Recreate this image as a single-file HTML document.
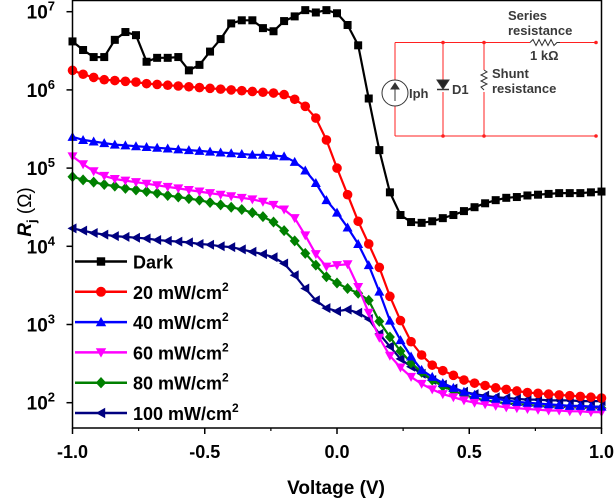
<!DOCTYPE html>
<html><head><meta charset="utf-8"><style>
html,body{margin:0;padding:0;background:#fff;}
svg{display:block;font-family:"Liberation Sans",Arial,sans-serif;}
</style></head><body>
<svg id="chart" width="616" height="502" viewBox="0 0 616 502">
<g id="circuit" fill="none" stroke="#ff2020" stroke-width="1">
  <line x1="395" y1="42.5" x2="530" y2="42.5"/>
  <line x1="560" y1="42.5" x2="596" y2="42.5"/>
  <line x1="395" y1="136" x2="596" y2="136"/>
  <line x1="395" y1="42.5" x2="395" y2="80"/>
  <line x1="395" y1="106" x2="395" y2="136"/>
  <line x1="443" y1="42.5" x2="443" y2="80"/>
  <line x1="443" y1="92" x2="443" y2="136"/>
  <line x1="484" y1="42.5" x2="484" y2="70"/>
  <line x1="484" y1="92" x2="484" y2="136"/>
  <g fill="#ff2020" stroke="none">
    <circle cx="443" cy="42.5" r="1.8"/><circle cx="484" cy="42.5" r="1.8"/><circle cx="596" cy="42.5" r="1.8"/>
    <circle cx="443" cy="136" r="1.8"/><circle cx="484" cy="136" r="1.8"/><circle cx="596" cy="136" r="1.8"/>
  </g>
  <g stroke="#333">
    <circle cx="395" cy="93" r="13"/>
    <line x1="395" y1="101" x2="395" y2="85"/>
    <path d="M391 89 L395 83 L399 89 Z" fill="#333"/>
    <path d="M437 80 L449 80 L443 89 Z" fill="#222"/>
    <line x1="437" y1="89.5" x2="449" y2="89.5" stroke-width="1.5"/>
    <path d="M484 70 L487 72 L481 75 L487 78 L481 81 L487 84 L481 87 L484 90"/>
    <path d="M530 42.5 L533 39.5 L536 45.5 L539 39.5 L542 45.5 L545 39.5 L548 45.5 L551 39.5 L554 45.5 L557 42.5 L560 42.5"/>
  </g>
  <g fill="#3a3a3a" stroke="none" font-size="13" font-weight="bold">
    <text x="409" y="98">Iph</text>
    <text x="452" y="94">D1</text>
    <text x="492" y="78">Shunt</text>
    <text x="492" y="93">resistance</text>
    <text x="508" y="20">Series</text>
    <text x="508" y="35">resistance</text>
    <text x="530" y="60">1 kΩ</text>
  </g>
</g>
<g id="plot"></g>
<g id="axes"></g>
<g id="legend"></g>
</svg>
<script>
const voltages = [];
for (let i = 0; i <= 50; i++) voltages.push(-1 + i * 0.04);
const seriesNames = ["Dark","20 mW/cm","40 mW/cm","60 mW/cm","80 mW/cm","100 mW/cm"];
const darkLog = [6.62,6.51,6.42,6.42,6.64,6.74,6.70,6.36,6.41,6.41,6.42,6.25,6.32,6.49,6.65,6.85,6.89,6.89,6.79,6.75,6.88,6.94,7.02,6.99,7.02,6.98,6.83,6.57,5.89,5.23,4.69,4.40,4.31,4.30,4.32,4.36,4.40,4.45,4.50,4.55,4.59,4.62,4.63,4.65,4.66,4.67,4.68,4.68,4.68,4.69,4.70];
const p20Log = [6.25,6.20,6.16,6.13,6.12,6.11,6.10,6.08,6.07,6.06,6.05,6.04,6.03,6.02,6.01,6.0,5.99,5.98,5.97,5.96,5.94,5.88,5.79,5.64,5.36,5.0,4.66,4.32,4.03,3.73,3.36,3.05,2.78,2.61,2.48,2.41,2.35,2.29,2.25,2.22,2.19,2.17,2.15,2.13,2.12,2.11,2.10,2.09,2.08,2.07,2.06];
const p40Log = [5.40,5.36,5.34,5.32,5.30,5.29,5.28,5.27,5.26,5.25,5.24,5.23,5.22,5.21,5.20,5.19,5.18,5.17,5.17,5.16,5.15,5.08,4.97,4.81,4.59,4.43,4.24,4.03,3.76,3.42,3.05,2.80,2.59,2.42,2.33,2.25,2.19,2.14,2.10,2.07,2.05,2.03,2.01,2.0,1.99,1.98,1.97,1.96,1.96,1.95,1.95];
const p60Log = [5.15,5.05,4.96,4.90,4.86,4.84,4.82,4.80,4.78,4.76,4.74,4.72,4.70,4.68,4.66,4.64,4.62,4.60,4.57,4.53,4.47,4.36,4.14,3.90,3.74,3.76,3.77,3.48,3.15,2.83,2.60,2.45,2.33,2.24,2.17,2.11,2.07,2.03,2.0,1.98,1.96,1.94,1.93,1.92,1.91,1.90,1.90,1.89,1.89,1.88,1.88];
const p80Log = [4.89,4.85,4.82,4.79,4.77,4.74,4.72,4.70,4.68,4.65,4.63,4.61,4.59,4.56,4.53,4.50,4.47,4.43,4.38,4.31,4.20,4.07,3.91,3.76,3.61,3.53,3.46,3.40,3.31,3.04,2.84,2.66,2.51,2.39,2.29,2.21,2.15,2.10,2.06,2.03,2.01,1.99,1.98,1.97,1.96,1.95,1.95,1.94,1.94,1.93,1.93];
const p100Log = [4.23,4.20,4.17,4.15,4.13,4.12,4.11,4.10,4.08,4.07,4.06,4.05,4.03,4.02,4.00,3.99,3.96,3.93,3.90,3.86,3.78,3.63,3.46,3.31,3.21,3.17,3.19,3.15,3.07,2.88,2.72,2.56,2.46,2.37,2.29,2.23,2.18,2.14,2.11,2.09,2.07,2.06,2.05,2.04,2.04,2.03,2.03,2.03,2.02,2.02,2.02];
const xTicks = [-1.0,-0.5,0.0,0.5,1.0];
const xTickLabels = ["-1.0","-0.5","0.0","0.5","1.0"];
const yTickExps = [2,3,4,5,6,7];

const NS = "http://www.w3.org/2000/svg";
const X0 = 72.5, X1 = 601.5, YTOP = 0.5, YBOT = 428;
function xs(v){ return X0 + (v + 1) / 2 * (X1 - X0); }
function ys(lg){ return 11.7 + (7 - lg) * 78.2; }
function mk(tag, attrs, parent){ const e = document.createElementNS(NS, tag); for (const k in attrs) e.setAttribute(k, attrs[k]); parent.appendChild(e); return e; }

const colors = ["#000000","#ff0000","#0000ff","#ff00ff","#008000","#000080"];
const markers = ["square","circle","up","down","diamond","left"];
const allSeries = [darkLog,p20Log,p40Log,p60Log,p80Log,p100Log];
const slugs = ["dark","20mw","40mw","60mw","80mw","100mw"];

function drawMarker(parent, type, cx, cy, color, s){
  let e;
  if (type === "square") e = mk("rect", {x: cx - s, y: cy - s, width: 2*s, height: 2*s, fill: color}, parent);
  else if (type === "circle") e = mk("circle", {cx: cx, cy: cy, r: s + 0.8, fill: color}, parent);
  else if (type === "up") e = mk("path", {d: `M${cx} ${cy-s-1} L${cx+s+1} ${cy+s} L${cx-s-1} ${cy+s} Z`, fill: color}, parent);
  else if (type === "down") e = mk("path", {d: `M${cx} ${cy+s+1} L${cx+s+1} ${cy-s} L${cx-s-1} ${cy-s} Z`, fill: color}, parent);
  else if (type === "diamond") e = mk("path", {d: `M${cx} ${cy-s-1.5} L${cx+s+1} ${cy} L${cx} ${cy+s+1.5} L${cx-s-1} ${cy} Z`, fill: color}, parent);
  else e = mk("path", {d: `M${cx-s-1} ${cy} L${cx+s} ${cy-s-1} L${cx+s} ${cy+s+1} Z`, fill: color}, parent);
  return e;
}

const plot = document.getElementById("plot");
for (let si = allSeries.length - 1; si >= 0; si--) {
  const g = mk("g", {}, plot);
  
  
  const data = allSeries[si];
  const pts = data.map((v, i) => xs(voltages[i]).toFixed(1) + "," + ys(v).toFixed(1)).join(" ");
  const line = mk("polyline", {points: pts, fill: "none", stroke: colors[si], "stroke-width": 2.2, "stroke-linejoin": "round"}, g);
  
  
  data.forEach((v, i) => {
    const m = drawMarker(g, markers[si], xs(voltages[i]), ys(v), colors[si], 4);
    
    
  });
}

const axes = document.getElementById("axes");
const frame = mk("rect", {x: X0, y: YTOP, width: X1 - X0, height: YBOT - YTOP, fill: "none", stroke: "#000", "stroke-width": 1.5}, axes);


xTicks.forEach((t, i) => {
  const x = xs(t);
  mk("line", {x1: x, y1: YBOT, x2: x, y2: YBOT + 6, stroke: "#000", "stroke-width": 1.5}, axes);
  const lb = mk("text", {x: x, y: 458, "text-anchor": "middle", "font-size": 18, "font-weight": "bold"}, axes);
  lb.textContent = xTickLabels[i];
  
  
});
for (let t = -0.75; t <= 0.8; t += 0.5) {
  const x = xs(t);
  mk("line", {x1: x, y1: YBOT, x2: x, y2: YBOT + 3, stroke: "#000", "stroke-width": 1.2}, axes);
}
yTickExps.forEach(e => {
  const y = ys(e);
  mk("line", {x1: X0 - 6, y1: y, x2: X0, y2: y, stroke: "#000", "stroke-width": 1.5}, axes);
  const lb = mk("text", {x: 55, y: y + 7, "text-anchor": "end", "font-size": 19, "font-weight": "bold"}, axes);
  
  
  const t1 = document.createElementNS(NS, "tspan"); t1.textContent = "10"; lb.appendChild(t1);
  const t2 = document.createElementNS(NS, "tspan"); t2.textContent = String(e); t2.setAttribute("font-size", "13"); t2.setAttribute("dy", "-8"); lb.appendChild(t2);
});
const xt = mk("text", {x: 336, y: 494, "text-anchor": "middle", "font-size": 19, "font-weight": "bold"}, axes);
xt.textContent = "Voltage (V)";


const yt = mk("text", {x: 0, y: 0, "text-anchor": "middle", "font-size": 19, "font-weight": "bold", transform: "translate(31,212) rotate(-90)"}, axes);


yt.innerHTML = '<tspan font-style="italic">R</tspan><tspan font-size="13" dy="5">j</tspan><tspan dy="-5" font-weight="normal"> (Ω)</tspan>';

const legend = document.getElementById("legend");
seriesNames.forEach((n, i) => {
  const y = 261.5 + i * 30.3;
  const g = mk("g", {}, legend);
  
  
  mk("line", {x1: 75, y1: y, x2: 127, y2: y, stroke: colors[i], "stroke-width": 2.5}, g);
  drawMarker(g, markers[i], 101, y, colors[i], 4.2);
  const tx = mk("text", {x: 133, y: y + 7, "font-size": 18, "font-weight": "bold"}, g);
  tx.textContent = n;
  if (i > 0) { const s = document.createElementNS(NS, "tspan"); s.textContent = "2"; s.setAttribute("font-size", "12"); s.setAttribute("dy", "-8"); tx.appendChild(s); }
});
</script>
</body></html>
